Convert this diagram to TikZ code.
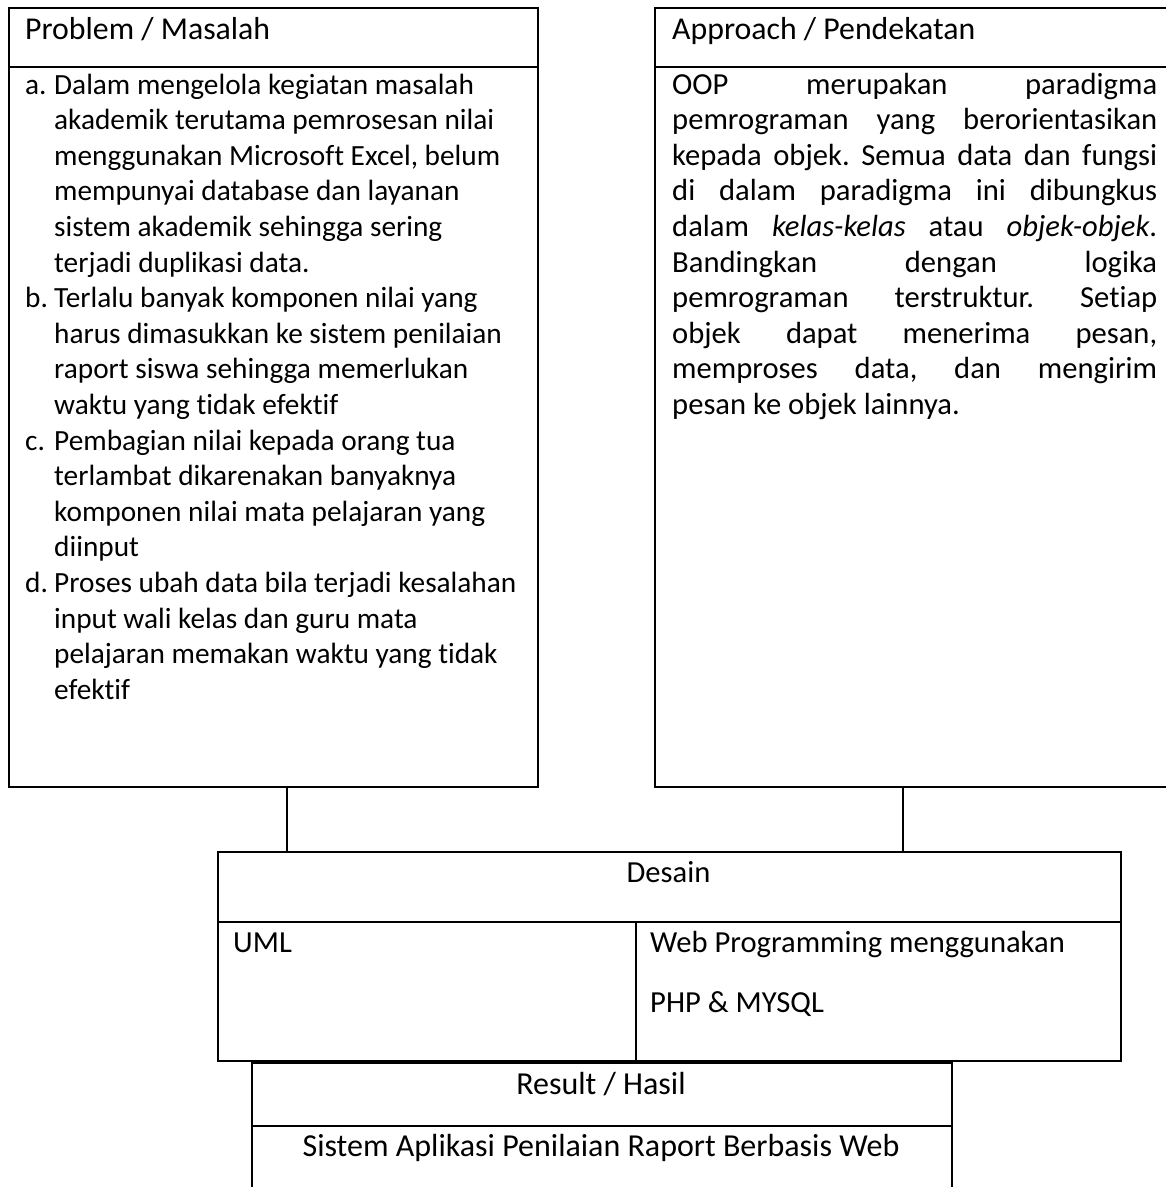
\documentclass[tikz,border=0pt]{standalone}
\usepackage{fontspec}
\setmainfont{Carlito}[Ligatures=NoCommon]
\usetikzlibrary{positioning}

\begin{document}
\begin{tikzpicture}[
    x=1pt, y=-1pt,
    frame/.style={draw, line width=2.4pt, inner sep=0pt, anchor=north west},
    rule/.style={draw, line width=2.4pt},
    link/.style={draw, line width=1.4pt},
    txt/.style={anchor=base west, inner sep=0pt},
    ctxt/.style={anchor=base, inner sep=0pt},
    title/.style={font=\fontsize{31.8}{35.6}\selectfont},
    listtxt/.style={txt, font=\fontsize{29.3}{35.6}\selectfont},
    bodytxt/.style={txt, font=\fontsize{30.6}{35.6}\selectfont},
    celltxt/.style={font=\fontsize{30.6}{35.6}\selectfont},
    restxt/.style={ctxt, font=\fontsize{32}{35.6}\selectfont},
]
\frenchspacing
\useasboundingbox (0,0) rectangle (1166,1187);

% Frames
\node[frame, minimum width=529, minimum height=779] (problem) at (8,7) {};
\node[frame, minimum width=530, minimum height=779] (approach) at (654,7) {};
\node[frame, minimum width=903, minimum height=209] (desain) at (217,851) {};
\node[frame, minimum width=700, minimum height=200] (result) at (251,1062) {};

% Header rules
\draw[rule] ([yshift=-60pt]problem.north west) -- ([yshift=-60pt]problem.north east);
\draw[rule] ([yshift=-60pt]approach.north west) -- ([yshift=-60pt]approach.north east);
\draw[rule] ([yshift=-71pt]desain.north west) -- ([yshift=-71pt]desain.north east);
\draw[rule] ([xshift=419pt]desain.south west) -- ([xshift=419pt,yshift=-71pt]desain.north west);
\draw[rule] ([yshift=-64pt]result.north west) -- ([yshift=-64pt]result.north east);

% Titles
\node[txt, title] (problemtitle) at (25,39) {Problem / Masalah};
\node[txt, title] (approachtitle) at (672,39) {Approach / Pendekatan};

% Problem list
\foreach \ln [count=\i from 0] in {
    Dalam mengelola kegiatan masalah,
    akademik terutama pemrosesan nilai,
    {menggunakan Microsoft Excel, belum},
    mempunyai database dan layanan,
    sistem akademik sehingga sering,
    terjadi duplikasi data.,
    Terlalu banyak komponen nilai yang,
    harus dimasukkan ke sistem penilaian,
    raport siswa sehingga memerlukan,
    waktu yang tidak efektif,
    Pembagian nilai kepada orang tua,
    terlambat dikarenakan banyaknya,
    komponen nilai mata pelajaran yang,
    diinput,
    Proses ubah data bila terjadi kesalahan,
    input wali kelas dan guru mata,
    pelajaran memakan waktu yang tidak,
    efektif} {
    \node[listtxt] (pl\i) at (54,{94+\i*35.6}) {\ln};
}
% Item letters
\foreach \lbl/\i in {a/0, b/6, c/10, d/14} {
    \node[listtxt] (plbl\lbl) at (25,{94+\i*35.6}) {\lbl.};
}

% Approach text (justified)
\foreach \ln [count=\i from 0] in {
    OOP merupakan paradigma,
    pemrograman yang berorientasikan,
    kepada objek. Semua data dan fungsi,
    di dalam paradigma ini dibungkus,
    dalam \textit{kelas-kelas} atau \textit{objek-objek}.,
    Bandingkan dengan logika,
    pemrograman terstruktur. Setiap,
    {objek dapat menerima pesan,},
    {memproses data, dan mengirim},
    pesan ke objek lainnya.} {
    \ifnum\i<9
        \node[bodytxt] (al\i) at (672,{94+\i*35.6}) {\hbox to 485pt{\ln}};
    \else
        \node[bodytxt] (al\i) at (672,{94+\i*35.6}) {\ln};
    \fi
}

% Desain
\node[ctxt, celltxt] (desaintitle) at (668.5,882) {Desain};
\node[txt, celltxt] (uml) at (233,952) {UML};
\node[txt, celltxt] (web) at (650,952) {Web Programming menggunakan};
\node[txt, celltxt] (php) at (650,1012) {PHP \& MYSQL};

% Result
\node[restxt] (resulttitle) at (601,1094) {Result / Hasil};
\node[restxt] (resulttext) at (601,1156) {Sistem Aplikasi Penilaian Raport Berbasis Web};

% Connectors
\coordinate (lnkl) at (287,0);
\coordinate (lnkr) at (903,0);
\draw[link] (problem.south -| lnkl) -- (desain.north -| lnkl);
\draw[link] (approach.south -| lnkr) -- (desain.north -| lnkr);

\end{tikzpicture}
\end{document}
